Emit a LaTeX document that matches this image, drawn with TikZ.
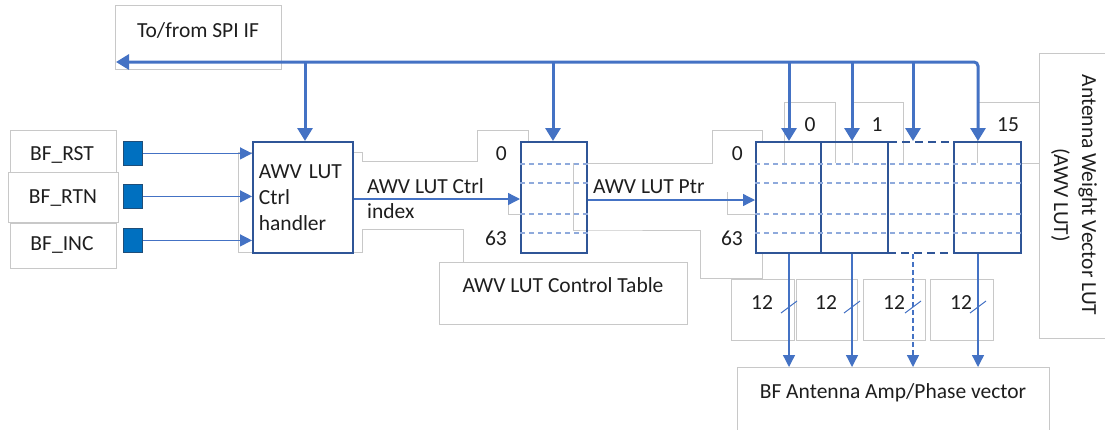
\documentclass[tikz,border=0pt]{standalone}
\usepackage{fontspec}
\setmainfont{Carlito}
\usetikzlibrary{arrows.meta,calc}
\definecolor{busblue}{HTML}{4472C4}
\definecolor{boxblue}{HTML}{2F5597}
\definecolor{rowblue}{HTML}{8FAADC}
\definecolor{sqblue}{HTML}{0070C0}
\definecolor{sqedge}{HTML}{1F4E79}
\definecolor{faint}{HTML}{C8C8C8}
\definecolor{txt}{HTML}{1E1E1E}
\begin{document}
\begin{tikzpicture}[x=1pt,y=-1pt,
  font=\fontsize{21.5}{26}\selectfont,
  faintbox/.style={draw=faint, line width=0.7pt},
  busline/.style={draw=busblue, line width=3pt},
  busarrow/.style={busline, -{Triangle[length=13pt,width=15pt]}},
  sigline/.style={draw=busblue, line width=1.3pt},
  sigarrow/.style={sigline, -{Triangle[length=12pt,width=12pt]}},
  blk/.style={draw=boxblue, line width=1.8pt, inner sep=0pt, anchor=north west},
  rowline/.style={draw=rowblue, dashed, dash pattern=on 5pt off 4pt, line width=1.2pt},
  lbl/.style={text=txt, inner sep=0pt},
  sq/.style={draw=sqedge, fill=sqblue, line width=0.8pt, minimum width=19pt, minimum height=24pt, inner sep=0pt, anchor=north west}
]
\path[use as bounding box] (0,0) rectangle (1105,429);

% ---- faint text frames ----
\draw[faintbox] (115,5) rectangle (281,69);
\draw[faintbox] (10,130) rectangle (116,172);
\draw[faintbox] (8,172) rectangle (118,222);
\draw[faintbox] (10,223) rectangle (116,268);
\draw[faintbox] (362,229) -- (362,252) -- (238,252) -- (238,152) -- (362,152) -- (362,161) -- (477,161) -- (477,130) -- (528,130) -- (528,141);
\draw[faintbox] (362,229) -- (463,229) -- (463,262);
\draw[faintbox] (508,199) -- (508,214) -- (520,214);
\draw[faintbox] (439,262) rectangle (687,324);
\draw[faintbox] (586,163) -- (712,163) -- (712,130) -- (762,130) -- (762,141);
\draw[faintbox] (573,163) -- (573,230) -- (586,230) -- (700,230) -- (700,278) -- (762,278) -- (762,252);
\draw[faintbox] (727,192) -- (727,214) -- (755,214);
\draw[faintbox] (784,163) -- (784,102) -- (835,102) -- (835,163);
\draw[faintbox] (852,163) -- (852,102) -- (903,102) -- (903,163);
\draw[faintbox] (977,163) -- (977,102) -- (1039,102);
\draw[faintbox] (1020,163) -- (1039,163);
\draw[faintbox] (1039,53) rectangle (1106,338);
\draw[faintbox] (731,279) rectangle (794,340);
\draw[faintbox] (796,279) rectangle (857,340);
\draw[faintbox] (863,279) rectangle (925,340);
\draw[faintbox] (930,279) rectangle (993,340);
\node[faintbox, minimum width=312pt, minimum height=80pt, anchor=north west, inner sep=0pt] (bf) at (737,367) {};

% ---- texts ----
\node[lbl, anchor=base] (spi) at (198,37) {To/from SPI IF};
\node[lbl, anchor=base] (rst) at (62,160) {BF\_RST};
\node[lbl, anchor=base] (rtn) at (63,203) {BF\_RTN};
\node[lbl, anchor=base] (inc) at (62,250) {BF\_INC};
\node[lbl, anchor=base west] (idx1) at (367,193) {AWV LUT Ctrl};
\node[lbl, anchor=base west] (idx2) at (367,218) {index};
\node[lbl, anchor=base west] (ptr) at (593,193) {AWV LUT Ptr};
\node[lbl, anchor=base east] (c0a) at (507,160) {0};
\node[lbl, anchor=base east] (c63a) at (507,245) {63};
\node[lbl, anchor=base east] (c0b) at (743,160) {0};
\node[lbl, anchor=base east] (c63b) at (743,245) {63};
\node[lbl, anchor=base] (ctltxt) at (563,292) {AWV LUT Control Table};
\node[lbl, anchor=base] (n0) at (810,131) {0};
\node[lbl, anchor=base] (n1) at (877,131) {1};
\node[lbl, anchor=base] (n15) at (1008,131) {15};
\node[lbl, anchor=base] (t1) at (762,309) {12};
\node[lbl, anchor=base] (t2) at (826,309) {12};
\node[lbl, anchor=base] (t3) at (894,309) {12};
\node[lbl, anchor=base] (t4) at (961,309) {12};
\node[lbl, anchor=base] (bftxt) at (893,398) {BF Antenna Amp/Phase vector};
\node[lbl, rotate=-90, align=center, font=\fontsize{21.5}{28}\selectfont] (awv) at (1074,195) {Antenna Weight Vector LUT\\(AWV LUT)};

% ---- input squares ----
\node[sq] (s1) at (123,141) {};
\node[sq] (s2) at (123,184) {};
\node[sq] (s3) at (123,228) {};

% ---- handler ----
\node[blk, fill=white, minimum width=100pt, minimum height=111pt, inner sep=6pt, text width=88pt, align=left, text=txt] (hdl) at (252,141) {AWV LUT\\Ctrl\\handler};

% ---- control table ----
\node[blk, minimum width=66pt, minimum height=111pt] (ctl) at (520,141) {};
\foreach \d in {23,42,73,92}
  \draw[rowline] ($(ctl.north west)+(0,\d)$) -- ($(ctl.north east)+(0,\d)$);

% ---- LUT columns ----
\node[blk, dashed, dash pattern=on 8pt off 5pt, minimum width=66pt, minimum height=111pt] (cd) at (887,141) {};
\node[blk, minimum width=65pt, minimum height=111pt] (k0) at (755,141) {};
\node[blk, minimum width=67pt, minimum height=111pt] (k1) at (820,141) {};
\node[blk, minimum width=67pt, minimum height=111pt] (k15) at (953,141) {};
\foreach \d in {23,42,73,92}
  \draw[rowline] ($(k0.north west)+(0,\d)$) -- ($(k15.north east)+(0,\d)$);

% ---- bus ----
\coordinate (b0) at (789,62);
\coordinate (b1) at (852,62);
\coordinate (b2) at (913,62);
\coordinate (b3) at (978,62);
\coordinate (bh) at (305,62);
\coordinate (bc) at (553,62);
\coordinate (spitip) at (116,62);
\draw[busline, {Triangle[length=13pt,width=15pt]}-{Triangle[length=13pt,width=15pt]}, rounded corners=4pt] (spitip) -- (b3) -- (b3 |- k15.north);
\draw[busarrow] (bh) -- (bh |- hdl.north);
\draw[busarrow] (bc) -- (bc |- ctl.north);
\draw[busarrow] (b0) -- (b0 |- k0.north);
\draw[busarrow] (b1) -- (b1 |- k1.north);
\draw[busarrow] (b2) -- (b2 |- cd.north);

% ---- signals ----
\draw[sigarrow] (s1.east) -- (s1.east -| hdl.west);
\draw[sigarrow] (s2.east) -- (s2.east -| hdl.west);
\draw[sigarrow] (s3.east) -- (s3.east -| hdl.west);
\coordinate (iy) at (0,199);
\draw[sigarrow] (hdl.east |- iy) -- (ctl.west |- iy);
\coordinate (py) at (0,200);
\draw[sigarrow] (ctl.east |- py) -- (k0.west |- py);

% ---- outputs ----
\draw[sigarrow] (b0 |- k0.south) -- (b0 |- bf.north);
\draw[sigarrow] (b1 |- k1.south) -- (b1 |- bf.north);
\draw[sigline, dashed, dash pattern=on 5pt off 3pt] (b2 |- cd.south) -- ($(b2 |- bf.north)+(0,-12)$);
\draw[sigarrow] ($(b2 |- bf.north)+(0,-13)$) -- (b2 |- bf.north);
\draw[sigarrow] (b3 |- k15.south) -- (b3 |- bf.north);
\foreach \c in {b0,b1,b2,b3}
  \draw[sigline, line width=1pt] ($(\c |- 0,307)+(-8,6)$) -- ++(16,-12);
\end{tikzpicture}
\end{document}
